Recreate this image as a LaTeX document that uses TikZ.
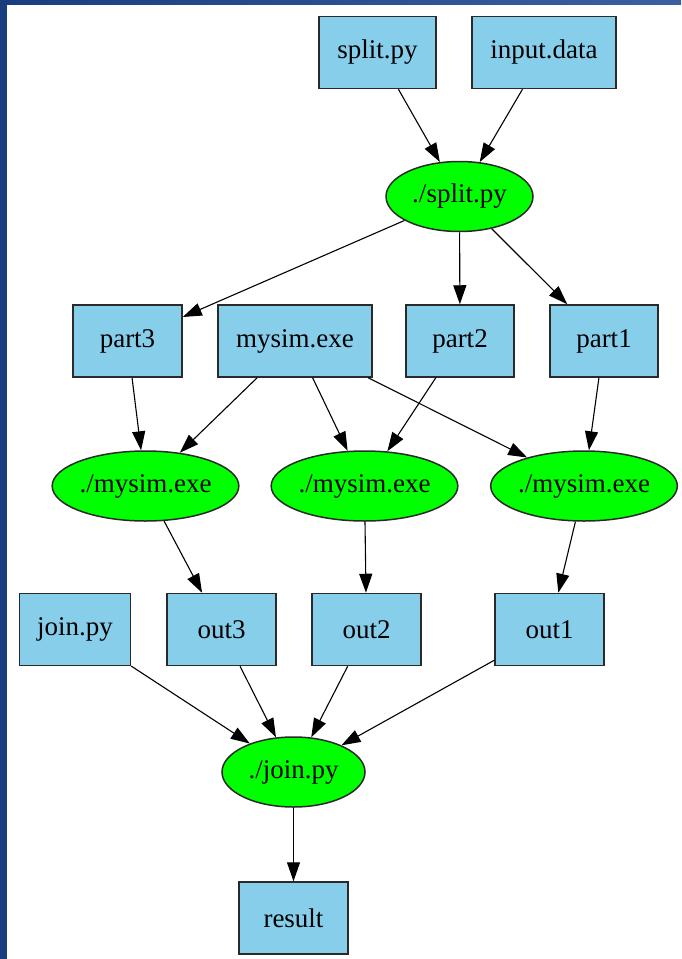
\documentclass[tikz,border=0pt]{standalone}
\usepackage{fontspec}
\setmainfont{Liberation Serif}
\usetikzlibrary{shapes.geometric,arrows.meta}
\definecolor{boxfill}{HTML}{87CEEB}
\definecolor{opfill}{HTML}{00FF00}
\definecolor{framedark}{HTML}{193D7E}
\definecolor{framelight}{HTML}{3C5FA2}
\definecolor{edgegray}{HTML}{2A2A2A}
\begin{document}
\begin{tikzpicture}[x=1pt,y=-1pt,
  label font/.style={font=\fontsize{27}{30}\selectfont},
  filebox/.style={rectangle, draw=edgegray, line width=1.5pt, fill=boxfill,
    minimum height=72pt, inner sep=0pt, label font},
  runop/.style={ellipse, draw=edgegray, line width=1.5pt, fill=opfill,
    minimum height=70pt, inner sep=0pt, label font},
  flow/.style={-{Triangle[length=19pt,width=13pt]}, line width=1.1pt, draw=black}]

% page and frame
\useasboundingbox (0,0) rectangle (681,959);
\fill[white] (0,0) rectangle (681,959);
\shade[left color=framedark, right color=framelight] (0,0) rectangle (681,4);
\fill[framedark] (0,0) rectangle (7,959);

% inputs of the split step
\node[filebox, minimum width=117pt] (splitpy) at (377.5,52.5) {split.py};
\node[filebox, minimum width=144pt] (inputdata) at (544,52.5) {input.data};
\node[runop, minimum width=147pt] (split) at (459.5,196.5) {./split.py};

% parts and the simulator
\node[filebox, minimum width=109pt] (part3) at (127.5,341) {part3};
\node[filebox, minimum width=154pt] (mysim) at (295,341) {mysim.exe};
\node[filebox, minimum width=108pt] (part2) at (460,341) {part2};
\node[filebox, minimum width=108pt] (part1) at (604,341) {part1};

% simulation runs
\node[runop, minimum width=185pt] (run3) at (145.5,486) {./mysim.exe};
\node[runop, minimum width=185pt] (run2) at (364.5,486) {./mysim.exe};
\node[runop, minimum width=181pt] (run1) at (584,486) {./mysim.exe};

% outputs and the join script
\node[filebox, minimum width=111pt] (joinpy) at (75,629.5) {join.py};
\node[filebox, minimum width=109pt] (out3) at (221.5,629.5) {out3};
\node[filebox, minimum width=109pt] (out2) at (366.5,629.5) {out2};
\node[filebox, minimum width=109pt] (out1) at (549.5,629.5) {out1};

% join step and result
\node[runop, minimum width=143pt] (join) at (293.5,772) {./join.py};
\node[filebox, minimum width=109pt] (result) at (293.5,918) {result};

% connectors
\draw[flow] (splitpy) -- (split);
\draw[flow] (inputdata) -- (split);
\draw[flow] (split) -- (part3);
\draw[flow] (split) -- (part2);
\draw[flow] (split) -- (part1);
\draw[flow] (part3) -- (run3);
\draw[flow] (mysim) -- (run3);
\draw[flow] (mysim) -- (run2);
\draw[flow] (mysim) -- (run1);
\draw[flow] (part2) -- (run2);
\draw[flow] (part1) -- (run1);
\draw[flow] (run3) -- (out3);
\draw[flow] (run2) -- (out2);
\draw[flow] (run1) -- (out1);
\draw[flow] (joinpy) -- (join);
\draw[flow] (out3) -- (join);
\draw[flow] (out2) -- (join);
\draw[flow] (out1) -- (join);
\draw[flow] (join) -- (result);
\end{tikzpicture}
\end{document}
